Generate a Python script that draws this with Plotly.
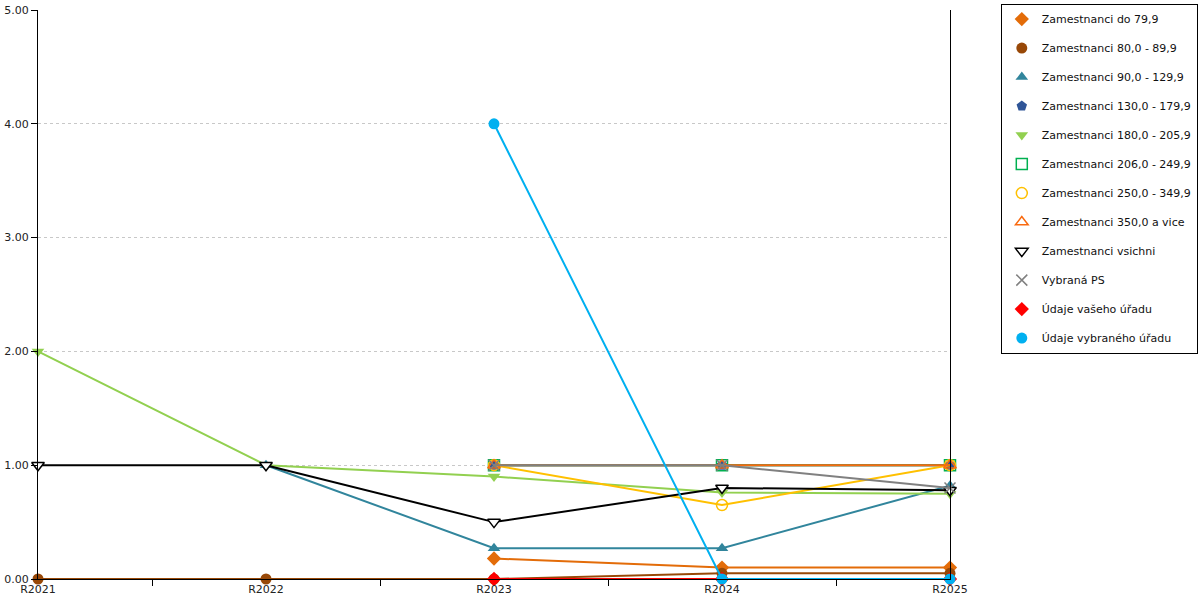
import plotly.graph_objs as go

# ---------- Data ----------

years = ["R2021", "R2022", "R2023", "R2024", "R2025"]

do_79 = [None, None, 0.18, 0.10, 0.10]
z80_89 = [0.0, 0.0, 0.0, 0.05, 0.05]
z90_129 = [None, 1.0, 0.27, 0.27, 0.82]
z130_179 = [None, None, 1.0, 1.0, 1.0]
z180_205 = [2.0, 1.0, 0.90, 0.76, 0.75]
z206_249 = [None, None, 1.0, 1.0, 1.0]
z250_349 = [None, None, 1.0, 0.65, 1.0]
z350 = [None, None, 1.0, 1.0, 1.0]
vsichni = [1.0, 1.0, 0.50, 0.80, 0.78]
vybrana_ps = [None, None, 1.0, 1.0, 0.80]
vaseho_uradu = [None, None, 0.0, 0.0, 0.0]
vybraneho_uradu = [None, None, 4.0, 0.0, 0.0]

y_ticks = [0, 1, 2, 3, 4, 5]

# name, values, colour, symbol, marker fill
series = [
    ("Zamestnanci do 79,9", do_79, "#E36C09", "diamond", None),
    ("Zamestnanci 80,0 - 89,9", z80_89, "#984807", "circle", None),
    ("Zamestnanci 90,0 - 129,9", z90_129, "#31859C", "triangle-up", None),
    ("Zamestnanci 130,0 - 179,9", z130_179, "#2F5597", "pentagon", None),
    ("Zamestnanci 180,0 - 205,9", z180_205, "#92D050", "triangle-down", None),
    ("Zamestnanci 206,0 - 249,9", z206_249, "#00B050", "square-open", None),
    ("Zamestnanci 250,0 - 349,9", z250_349, "#FFC000", "circle-open", None),
    ("Zamestnanci 350,0 a vice", z350, "#F96A10", "triangle-up-open", None),
    ("Zamestnanci vsichni", vsichni, "#000000", "triangle-down", "white"),
    ("Vybraná PS", vybrana_ps, "#808080", "x-thin-open", None),
    ("Údaje vašeho úřadu", vaseho_uradu, "#FF0000", "diamond", None),
    ("Údaje vybraného úřadu", vybraneho_uradu, "#00B0F0", "circle", None),
]

fig = go.Figure()

for i, (name, vals, color, symbol, fill) in enumerate(series):
    fig.add_trace(go.Scatter(
        x=years, y=vals, mode="lines", name=name,
        line=dict(color=color, width=2),
        showlegend=False, legendgroup=f"g{i}",
        cliponaxis=False, hoverinfo="skip"))
    marker = dict(color=fill if fill else color, symbol=symbol, size=11,
                  line=dict(color=color, width=1.5 if fill or "open" in symbol else 0))
    fig.add_trace(go.Scatter(
        x=years, y=vals, mode="markers", name=name,
        marker=marker, legendgroup=f"g{i}", cliponaxis=False))

fig.update_layout(
    width=1200, height=600,
    paper_bgcolor="white",
    plot_bgcolor="white",
    font=dict(family="DejaVu Sans", size=11, color="#222222"),
    margin=dict(l=38, r=250, t=10, b=21, pad=0, autoexpand=False),
    legend=dict(
        xref="container", yref="container",
        x=0.834, y=0.994, xanchor="left", yanchor="top",
        bordercolor="black", borderwidth=1, bgcolor="white",
        font=dict(family="DejaVu Sans", size=11, color="#111111"),
        tracegroupgap=10, traceorder="grouped",
        itemwidth=30, maxheight=500,
    ),
    xaxis=dict(
        type="category",
        range=[0, 4],
        automargin=False,
        showgrid=False,
        showline=True, linecolor="black", linewidth=1,
        ticks="outside", ticklen=6, tickcolor="black",
        tickson="boundaries",
        tickfont=dict(size=11),
    ),
    yaxis=dict(
        range=[0, 5],
        automargin=False,
        tickvals=y_ticks,
        tickformat=".2f",
        showgrid=True, gridcolor="#C8C8C8", griddash="dot", gridwidth=1,
        zeroline=False,
        showline=True, linecolor="black", linewidth=1, mirror=True,
        ticks="outside", ticklen=6, tickcolor="black",
        tickfont=dict(size=11),
    ),
)

# page body has a default 8px margin; drop it so the chart sits at 0,0
fig.write_html("out.html", config={"displayModeBar": False},
               post_script="document.body.style.margin = '0';")
